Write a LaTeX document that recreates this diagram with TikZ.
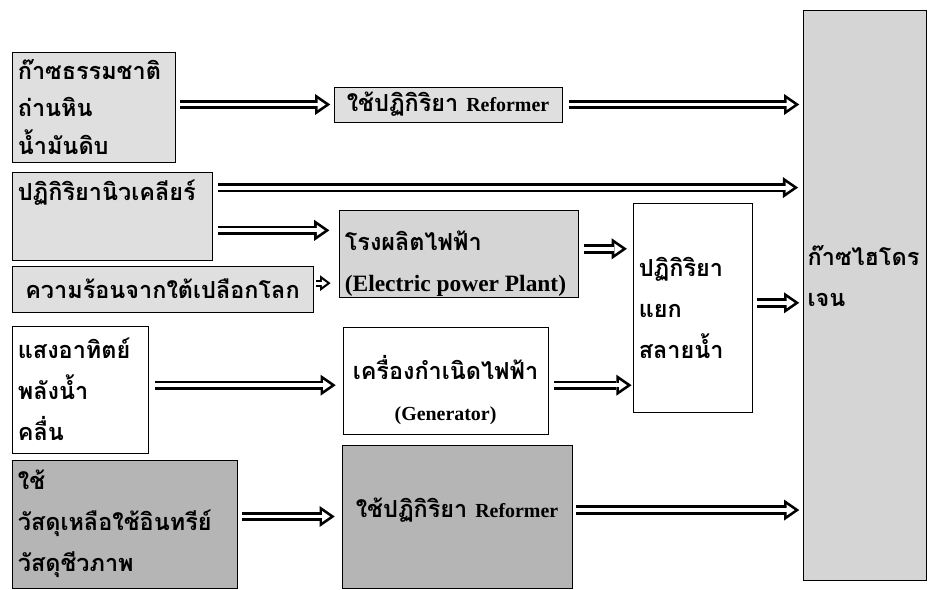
\documentclass[tikz,border=0pt]{standalone}
\usepackage{fontspec}
\setmainfont{Liberation Serif}
\newfontfamily\thaifont[Script=Thai]{Loma}
\usetikzlibrary{arrows.meta, fit, positioning}
\newcommand{\thb}{\thaifont\bfseries\fontsize{20}{35}\selectfont}
\newcommand{\thbtight}{\thaifont\bfseries\fontsize{20}{32}\selectfont}
\newcommand{\enb}[1]{{\rmfamily\bfseries\fontsize{17}{20}\selectfont #1}}
\newcommand{\enbig}[1]{{\rmfamily\bfseries\fontsize{20}{22}\selectfont #1}}
\tikzset{
box/.style={draw, thin, inner sep=0pt}, % plain frame
lightbox/.style={box, fill=gray!25},
midbox/.style={box, fill=gray!33},
darkbox/.style={box, fill=gray!58},
whitebox/.style={box, fill=white},
lbl/.style={inner sep=0pt, align=left, font=\thb},
% hollow block arrow: black body first, white body on top
fat/.style={white, line width=3.4pt, -{Triangle[length=6.7pt,width=9.2pt,line width=0pt]}, shorten >=4pt,
  preaction={draw=black, line width=8pt, -{Triangle[length=13pt,width=18pt,line width=0pt]}, shorten >=0pt}},
fatsmall/.style={white, line width=2.6pt, -{Triangle[length=4.5pt,width=6.5pt,line width=0pt]}, shorten >=3pt,
  preaction={draw=black, line width=6pt, -{Triangle[length=9pt,width=13.5pt,line width=0pt]}, shorten >=0pt}},
}
\begin{document}
\begin{tikzpicture}[x=0.03cm, y=-0.03cm]
  \useasboundingbox (0,0) rectangle (929,589);

  % sources
  \node[lightbox, fit={(12,52) (175,162)}] (gas) {};
  \node[lightbox, fit={(12,172) (212,260)}] (nuc) {};
  \node[lightbox, fit={(12,266) (313,312)}] (heat) {};
  \node[whitebox, fit={(12,326) (148,453)}] (solar) {};
  \node[darkbox, fit={(12,460) (237,588)}] (bio) {};

  % processes
  \node[lightbox, fit={(334,87) (562,122)}] (ref1) {};
  \node[midbox, fit={(339,210) (578,297)}] (plant) {};
  \node[whitebox, fit={(343,327) (548,434)}] (gen) {};
  \node[darkbox, fit={(342,445) (572,588)}] (ref2) {};
  \node[whitebox, fit={(633,203) (752,412)}] (split) {};
  \node[midbox, fit={(803,10) (926,580)}] (h2) {};

  % texts
  \node[lbl, anchor=west, font=\thbtight] (gastxt) at ([xshift=5pt]gas.west) {ก๊าซธรรมชาติ\\ถ่านหิน\\น้ำมันดิบ};
  \node[lbl, anchor=west] (nuctxt) at ([xshift=5pt,yshift=-18pt]nuc.north west) {ปฏิกิริยานิวเคลียร์};
  \node[lbl] (heattxt) at (heat.center) {ความร้อนจากใต้เปลือกโลก};
  \node[lbl, anchor=west] (solartxt) at ([xshift=5pt]solar.west) {แสงอาทิตย์\\พลังน้ำ\\คลื่น};
  \node[lbl, anchor=west] (biotxt) at ([xshift=5pt]bio.west) {ใช้\\วัสดุเหลือใช้อินทรีย์\\วัสดุชีวภาพ};
  \node[lbl] (ref1txt) at (ref1.center) {ใช้ปฏิกิริยา~\enb{Reformer}};
  \node[lbl, anchor=west] (planttxt) at ([xshift=5pt,yshift=-8.5pt]plant.west) {โรงผลิตไฟฟ้า\\\enbig{(Electric power Plant)}};
  \node[lbl, align=center] (gentxt) at ([yshift=-8.5pt]gen.center) {เครื่องกำเนิดไฟฟ้า\\\enb{(Generator)}};
  \node[lbl] (ref2txt) at ([yshift=5pt]ref2.center) {ใช้ปฏิกิริยา~\enb{Reformer}};
  \node[lbl, anchor=west] (splittxt) at ([xshift=5pt]split.west) {ปฏิกิริยา\\แยก\\สลายน้ำ};
  \node[lbl, anchor=west] (h2txt) at ([xshift=4pt,yshift=16pt]h2.west) {ก๊าซไฮโดร\\เจน};

  % arrows
  \draw[fat] ([xshift=4pt]gas.east |- ref1.west) -- ([xshift=-3pt]ref1.west);
  \draw[fat] ([xshift=6pt]ref1.east) -- ([xshift=-3pt]ref1.east -| h2.west);
  \draw[fat] ([xshift=5pt,yshift=-13.5pt]nuc.north east) -- ([xshift=-4pt,yshift=-13.5pt]nuc.north east -| h2.west);
  \draw[fat] ([xshift=5pt,yshift=25.5pt]nuc.south east) -- ([xshift=-8pt,yshift=25.5pt]nuc.south east -| plant.west);
  \draw[fatsmall] ([xshift=2.5pt,yshift=5pt]heat.east) -- ([xshift=-7pt,yshift=5pt]heat.east -| plant.west);
  \draw[fat] ([xshift=5pt,yshift=4pt]plant.east) -- ([xshift=-5pt,yshift=4pt]plant.east -| split.west);
  \draw[fat] ([xshift=4pt,yshift=4pt]split.east) -- ([xshift=-3pt,yshift=4pt]split.east -| h2.west);
  \draw[fat] ([xshift=6pt,yshift=-4pt]solar.east |- gen.west) -- ([xshift=-6pt,yshift=-4pt]gen.west);
  \draw[fat] ([xshift=5pt,yshift=-4pt]gen.east) -- ([xshift=-1pt,yshift=-4pt]gen.east -| split.west);
  \draw[fat] ([xshift=4pt]bio.east |- ref2.west) -- ([xshift=-6pt]ref2.west);
  \draw[fat] ([xshift=3pt,yshift=5.5pt]ref2.east) -- ([xshift=-3pt,yshift=5.5pt]ref2.east -| h2.west);
\end{tikzpicture}
\end{document}
